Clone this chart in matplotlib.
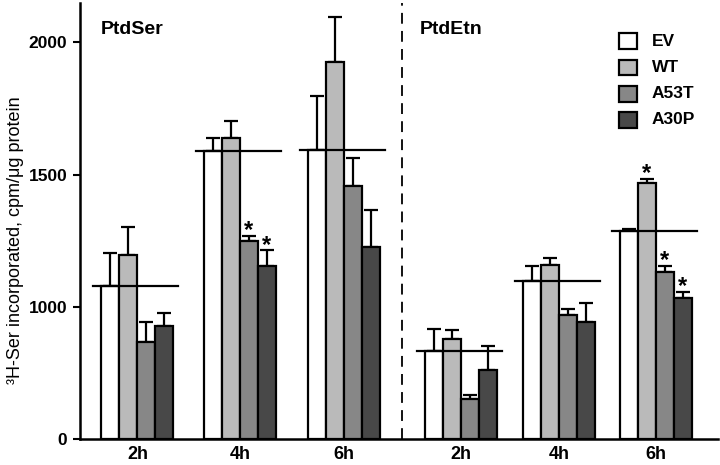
import matplotlib
matplotlib.use('Agg')
import matplotlib.pyplot as plt

plt.rcParams['font.family'] = ['Liberation Sans', 'DejaVu Sans']

# data
groups = ['2h', '4h', '6h', '2h', '4h', '6h']
series = ['EV', 'WT', 'A53T', 'A30P']
colors = ['white', '#bababa', '#878787', '#484848']

ev = [1080, 1589, 1595, 832, 1097, 1286]
wt = [1195, 1640, 1927, 877, 1159, 1468]
a53t = [866, 1249, 1458, 651, 968, 1131]
a30p = [927, 1156, 1226, 762, 944, 1032]

ev_err = [122, 48, 203, 85, 57, 10]
wt_err = [107, 63, 168, 35, 27, 15]
a53t_err = [78, 20, 106, 16, 23, 23]
a30p_err = [49, 58, 140, 91, 69, 25]

# significance marks: (group index, series index)
stars = [(1, 2), (1, 3), (5, 1), (5, 2), (5, 3)]

xpos = [0, 1.025, 2.065, 3.235, 4.215, 5.185]
width = 0.18

fig = plt.figure(figsize=(7.2, 4.65), dpi=100)
ax = fig.add_axes([0.111, 0.056, 0.886, 0.938])

values = [ev, wt, a53t, a30p]
errs = [ev_err, wt_err, a53t_err, a30p_err]
for i in range(4):
    xs = [x + (i - 1.5) * width for x in xpos]
    ax.bar(xs, [v - 500 for v in values[i]], width, bottom=500,
           color=colors[i], edgecolor='black', linewidth=1.6, zorder=2)
    ax.errorbar(xs, values[i], yerr=[[0] * 6, errs[i]], fmt='none',
                ecolor='black', elinewidth=1.6, capsize=5, capthick=1.6, zorder=1)

# reference line at EV level
for x, v in zip(xpos, ev):
    ax.plot([x - 0.44, x + 0.41], [v, v], color='black', lw=1.6, zorder=3)

for g, s in stars:
    x = xpos[g] + (s - 1.5) * width
    top = values[s][g] + errs[s][g]
    ax.annotate('*', (x, top), xytext=(0, -1), textcoords='offset points',
                ha='center', va='baseline', fontsize=17, fontweight='bold')

ax.axvline(2.65, color='black', lw=1.3, ls=(0, (6, 4)))

ax.text(-0.37, 2050, 'PtdSer', fontsize=14, fontweight='bold', va='center')
ax.text(2.82, 2050, 'PtdEtn', fontsize=14, fontweight='bold', va='center')

# legend
for i, name in enumerate(series):
    y = 2004 - i * 99
    ax.add_patch(plt.Rectangle((4.82, y - 30), 0.18, 60, facecolor=colors[i],
                               edgecolor='black', lw=1.6, clip_on=False))
    ax.text(5.145, y, name, fontsize=12.5, fontweight='bold', va='center')

ax.set_xlim(-0.575, 5.805)
ax.set_ylim(500, 2150)
ax.set_yticks([500, 1000, 1500, 2000])
ax.set_yticklabels(['0', '1000', '1500', '2000'])
ax.set_xticks(xpos)
ax.set_xticklabels(groups)
for lab in ax.get_xticklabels():
    lab.set_fontweight('bold')
    lab.set_fontsize(13)
for lab in ax.get_yticklabels():
    lab.set_fontweight('bold')
    lab.set_fontsize(12.5)
ax.tick_params(axis='x', length=0, pad=5)
ax.tick_params(axis='y', length=5, width=1.5, pad=4)
ax.set_ylabel('\u00b3H-Ser incorporated, cpm/\u03bcg protein', fontsize=13)
ax.yaxis.set_label_coords(-0.088, 0.456)
ax.spines['top'].set_visible(False)
ax.spines['right'].set_visible(False)
ax.spines['left'].set_linewidth(1.8)
ax.spines['bottom'].set_linewidth(1.8)

fig.savefig('out.png', dpi=100)
